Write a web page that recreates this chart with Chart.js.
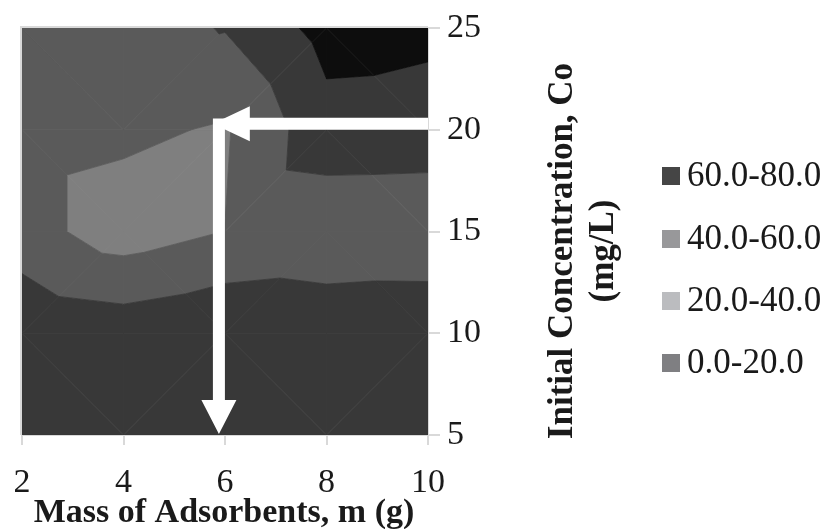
<!DOCTYPE html>
<html>
<head>
<meta charset="utf-8">
<script src="https://cdn.jsdelivr.net/npm/chart.js@4.4.0/dist/chart.umd.min.js"></script>
<style>
  html, body { margin: 0; padding: 0; background: #fff; }
  #wrap { width: 821px; height: 529px; }
</style>
</head>
<body>
<div id="wrap"><canvas id="contourChart" width="821" height="529"></canvas></div>
<script>
// grid of the surface: mass of adsorbent (x) and initial concentration (y)
const massValues = [2, 4, 6, 8, 10];
const concValues = [5, 10, 15, 20, 25];

// value at each grid node, one row per concentration
const rowCo5  = [72, 72, 71, 72, 73];
const rowCo10 = [77, 72, 79, 75, 77];
const rowCo15 = [48, 30, 40.2, 44, 43.5];
const rowCo20 = [48, 44, 38, 73, 72];
const rowCo25 = [50, 52, 61, 87, 84];
const valueRows = [rowCo5, rowCo10, rowCo15, rowCo20, rowCo25];

// contour bands
const bandEdges = [0, 20, 40, 60, 80, 100];
const legendLabels = ['60.0-80.0', '40.0-60.0', '20.0-40.0', '0.0-20.0'];

const xTicks = [2, 4, 6, 8, 10];
const yTicks = [5, 10, 15, 20, 25];

// arrows drawn on top (start -> tip, in data units)
const arrowH = [{ x: 10, y: 20.3 }, { x: 5.76, y: 20.3 }];
const arrowV = [{ x: 5.88, y: 20.55 }, { x: 5.88, y: 5.05 }];

// colours
const bandFill = ['#6a6a6a', '#7f7f7f', '#5a5a5a', '#383838', '#0d0d0d'];
const legendFill = ['#454545', '#98989a', '#bbbcbf', '#7f7f82'];
const axisGrey = '#d9d9d9';
const textColor = '#1a1a1a';

// clip a polygon (points with x, y, z) against a level
function clipPoly(poly, level, keepAbove) {
  const out = [];
  for (let i = 0; i < poly.length; i++) {
    const a = poly[i], b = poly[(i + 1) % poly.length];
    const inA = keepAbove ? a.z >= level : a.z <= level;
    const inB = keepAbove ? b.z >= level : b.z <= level;
    if (inA) out.push(a);
    if (inA !== inB) {
      const t = (level - a.z) / (b.z - a.z);
      out.push({ x: a.x + t * (b.x - a.x), y: a.y + t * (b.y - a.y), z: level });
    }
  }
  return out;
}

// split every cell in two triangles and cut them into bands
function buildBands() {
  const pieces = [];
  const node = (i, j) => ({ x: massValues[i], y: concValues[j], z: valueRows[j][i] });
  for (let j = 0; j < concValues.length - 1; j++) {
    for (let i = 0; i < massValues.length - 1; i++) {
      const bl = node(i, j), br = node(i + 1, j), tl = node(i, j + 1), tr = node(i + 1, j + 1);
      let tris;
      if (Math.abs(bl.z - tr.z) > Math.abs(tl.z - br.z)) {
        tris = [[bl, tr, tl], [bl, br, tr]];
      } else {
        tris = [[tl, bl, br], [tl, br, tr]];
      }
      tris.forEach(tri => {
        for (let b = 0; b < bandEdges.length - 1; b++) {
          let p = clipPoly(tri, bandEdges[b], true);
          if (p.length < 3) continue;
          p = clipPoly(p, bandEdges[b + 1], false);
          if (p.length < 3) continue;
          pieces.push({ band: b, pts: p });
        }
      });
    }
  }
  return pieces;
}
const bandPieces = buildBands();

function drawArrow(ctx, sx, sy, from, to, shaft, head, headLen) {
  const x0 = sx.getPixelForValue(from.x), y0 = sy.getPixelForValue(from.y);
  const x1 = sx.getPixelForValue(to.x), y1 = sy.getPixelForValue(to.y);
  const ang = Math.atan2(y1 - y0, x1 - x0);
  const len = Math.hypot(x1 - x0, y1 - y0);
  ctx.save();
  ctx.translate(x0, y0);
  ctx.rotate(ang);
  ctx.fillStyle = '#ffffff';
  ctx.beginPath();
  ctx.moveTo(0, -shaft / 2);
  ctx.lineTo(len - headLen, -shaft / 2);
  ctx.lineTo(len - headLen, -head / 2);
  ctx.lineTo(len, 0);
  ctx.lineTo(len - headLen, head / 2);
  ctx.lineTo(len - headLen, shaft / 2);
  ctx.lineTo(0, shaft / 2);
  ctx.closePath();
  ctx.fill();
  ctx.restore();
}

const contourPlugin = {
  id: 'contour',
  beforeDatasetsDraw(chart) {
    const { ctx, chartArea: a, scales: { x, y } } = chart;
    ctx.save();
    ctx.beginPath();
    ctx.rect(a.left, a.top, a.right - a.left, a.bottom - a.top);
    ctx.clip();
    bandPieces.forEach(pc => {
      ctx.beginPath();
      pc.pts.forEach((p, k) => {
        const px = x.getPixelForValue(p.x), py = y.getPixelForValue(p.y);
        if (k === 0) ctx.moveTo(px, py); else ctx.lineTo(px, py);
      });
      ctx.closePath();
      ctx.fillStyle = bandFill[pc.band];
      ctx.strokeStyle = bandFill[pc.band];
      ctx.lineWidth = 0.8;
      ctx.fill();
      ctx.stroke();
    });
    ctx.restore();

    // light frame round the plot
    ctx.save();
    ctx.strokeStyle = axisGrey;
    ctx.lineWidth = 2;
    ctx.beginPath();
    ctx.moveTo(a.left - 1, a.bottom);
    ctx.lineTo(a.left - 1, a.top - 1);
    ctx.lineTo(a.right, a.top - 1);
    ctx.stroke();
    ctx.restore();
  },
  afterDatasetsDraw(chart) {
    const { ctx, scales: { x, y } } = chart;
    drawArrow(ctx, x, y, arrowH[0], arrowH[1], 12, 35, 37);
    drawArrow(ctx, x, y, arrowV[0], arrowV[1], 12, 35, 34);
  },
  afterDraw(chart) {
    const { ctx } = chart;
    ctx.save();
    ctx.fillStyle = textColor;
    // x axis title
    ctx.font = 'bold 34px "Liberation Serif"';
    ctx.textAlign = 'center';
    ctx.textBaseline = 'alphabetic';
    ctx.fillText('Mass of Adsorbents, m (g)', 224, 522);
    // y axis title, two lines, reading upwards
    ctx.save();
    ctx.translate(572, 251);
    ctx.rotate(-Math.PI / 2);
    ctx.font = 'bold 35px "Liberation Serif"';
    ctx.fillText('Initial Concentration, Co', 0, 0);
    ctx.fillText('(mg/L)', 0, 41);
    ctx.restore();
    // legend
    ctx.font = '35px "Liberation Serif"';
    ctx.textAlign = 'left';
    ctx.textBaseline = 'middle';
    const rows = [176, 239, 301, 363];
    legendLabels.forEach((lab, k) => {
      ctx.fillStyle = legendFill[k];
      ctx.fillRect(662, rows[k] - 9, 18, 18);
      ctx.fillStyle = textColor;
      ctx.fillText(lab, 687, rows[k] + 1);
    });
    ctx.restore();
  }
};

const nodePoints = [];
concValues.forEach((c, j) => massValues.forEach((m, i) => nodePoints.push({ x: m, y: c, v: valueRows[j][i] })));

new Chart(document.getElementById('contourChart'), {
  type: 'scatter',
  data: {
    datasets: [{
      label: 'grid',
      data: nodePoints,
      pointRadius: 0,
      showLine: false
    }]
  },
  options: {
    responsive: false,
    animation: false,
    devicePixelRatio: 1,
    layout: { padding: { left: 22, top: 28, right: 0, bottom: 0 } },
    plugins: { legend: { display: false }, tooltip: { enabled: false } },
    scales: {
      x: {
        type: 'linear',
        min: 2, max: 10,
        afterBuildTicks: s => { s.ticks = xTicks.map(v => ({ value: v })); },
        afterFit: s => { s.height = 94; s.paddingLeft = 0; s.paddingRight = 0; },
        grid: { drawOnChartArea: false, drawTicks: true, tickLength: 10, color: axisGrey, lineWidth: 2 },
        border: { display: true, color: axisGrey, width: 2 },
        ticks: { color: textColor, font: { family: 'Liberation Serif', size: 34 }, padding: 18, maxRotation: 0, autoSkip: false }
      },
      y: {
        type: 'linear',
        position: 'right',
        min: 5, max: 25,
        afterBuildTicks: s => { s.ticks = yTicks.map(v => ({ value: v })); },
        afterFit: s => { s.width = 393; s.paddingTop = 0; s.paddingBottom = 0; },
        grid: { drawOnChartArea: false, drawTicks: true, tickLength: 12, color: axisGrey, lineWidth: 2 },
        border: { display: true, color: axisGrey, width: 2 },
        ticks: { color: textColor, font: { family: 'Liberation Serif', size: 34 }, padding: 7, autoSkip: false }
      }
    }
  },
  plugins: [contourPlugin]
});
</script>
</body>
</html>
